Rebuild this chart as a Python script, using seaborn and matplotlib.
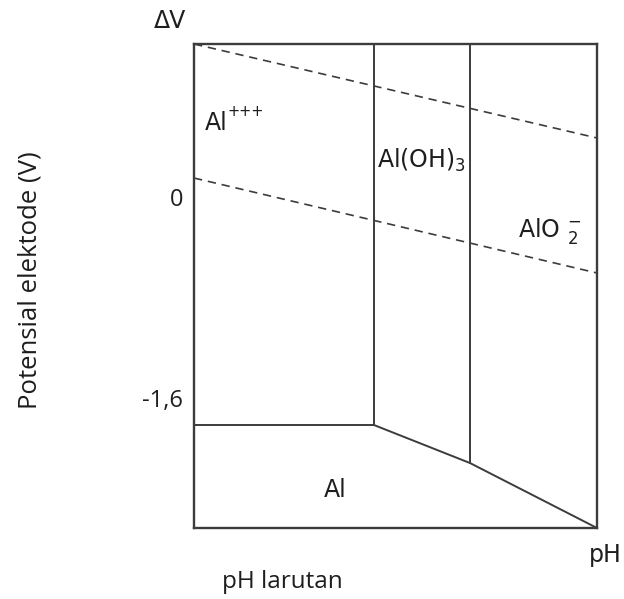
import matplotlib
matplotlib.use("Agg")
import matplotlib.pyplot as plt
import seaborn as sns
import pandas as pd

# boundaries of the Pourbaix diagram (x = pH 0..14, y = potential V)
ph_axis = [0, 14]
v_axis = [-2.635, 1.218]

# dashed water lines
upper_water_ph = [0, 14]
upper_water_v = [1.218, 0.470]
lower_water_ph = [0, 14]
lower_water_v = [0.151, -0.605]

# solid phase boundaries
al_ion_ph = [0, 6.25]
al_ion_v = [-1.815, -1.815]
al_bottom_ph = [6.25, 9.59, 14]
al_bottom_v = [-1.815, -2.118, -2.635]
hydrox_left_ph = [6.25, 6.25]
hydrox_left_v = [1.218, -1.815]
hydrox_right_ph = [9.59, 9.59]
hydrox_right_v = [1.218, -2.118]

tick_values = [0, -1.6]
tick_labels = ["0", "-1,6"]

species = ["Al", "Al(OH)$_3$", "AlO $_2^{-}$", "Al"]
species_ph = [0.38, 6.36, 11.26, 4.90]
species_v = [0.533, 0.231, -0.318, -2.39]

sns.set_theme(style="white")
plt.rcParams["font.family"] = ["DejaVu Sans"]
plt.rcParams["mathtext.fontset"] = "dejavusans"

line_col = "#3c3c3c"
txt_col = "#1e1e1e"

fig = plt.figure(figsize=(6.24, 5.99), dpi=100)
ax = fig.add_axes([194 / 624, 1 - 528 / 599, 403 / 624, 484 / 599])

segments = [
    (upper_water_ph, upper_water_v, "--"),
    (lower_water_ph, lower_water_v, "--"),
    (al_ion_ph, al_ion_v, "-"),
    (al_bottom_ph, al_bottom_v, "-"),
    (hydrox_left_ph, hydrox_left_v, "-"),
    (hydrox_right_ph, hydrox_right_v, "-"),
]
for xs, ys, ls in segments:
    d = pd.DataFrame({"pH": xs, "V": ys})
    sns.lineplot(data=d, x="pH", y="V", sort=False, estimator=None, ax=ax,
                 color=line_col, linewidth=1.2 if ls == "--" else 1.4)
    if ls == "--":
        ax.lines[-1].set_dashes((5, 3.5))

ax.set_xlim(ph_axis)
ax.set_ylim(v_axis)
ax.set_xticks([])
ax.set_yticks(tick_values)
ax.set_yticklabels(tick_labels, fontsize=17, color=txt_col, family=["Open Sans", "DejaVu Sans"])
ax.tick_params(axis="y", length=0, pad=8)
ax.set_xlabel("")
ax.set_ylabel("")
for s in ax.spines.values():
    s.set_color(line_col)
    s.set_linewidth(1.7)

for name, x, y in zip(species, species_ph, species_v):
    ax.text(x, y, name, fontsize=17, color=txt_col,
            ha="center" if x == species_ph[-1] else "left", va="baseline")
# charge of the aluminium ion
ax.annotate("+++", xy=(species_ph[0], species_v[0]), xytext=(16.5, 10),
            textcoords="offset points", fontsize=10.5, color=txt_col, va="baseline")

fig.text(170 / 624, 1 - 21 / 599, "ΔV", fontsize=17, ha="center", va="center", color=txt_col)
fig.text(605 / 624, 1 - 555 / 599, "pH", fontsize=17, ha="center", va="center", color=txt_col)
fig.text(282 / 624, 1 - 582 / 599, "pH larutan", fontsize=17.5, ha="center", va="center",
         family=["Open Sans", "DejaVu Sans"], color=txt_col)
fig.text(30 / 624, 1 - 280 / 599, "Potensial elektode (V)", fontsize=18.5, rotation=90,
         ha="center", va="center", family=["Open Sans", "DejaVu Sans"], color=txt_col)

fig.savefig("out.png", dpi=100)
